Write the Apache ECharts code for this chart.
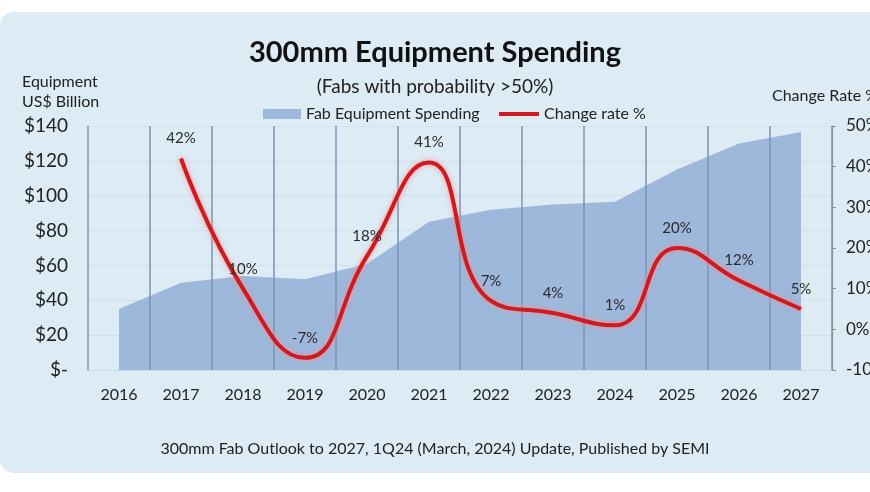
<!DOCTYPE html>
<html><head><meta charset="utf-8">
<script src="https://cdn.jsdelivr.net/npm/echarts@6/dist/echarts.min.js"></script>
<style>html,body{margin:0;padding:0;background:#fff;overflow:hidden;width:870px;height:492px}#c{width:870px;height:492px}</style>
</head><body><div id="c"></div>
<script>
const years = ['2016','2017','2018','2019','2020','2021','2022','2023','2024','2025','2026','2027'];
const spending = [35, 50, 54, 52, 61, 85, 92, 95, 96.5, 115, 130, 136.5];
const changeRate = [null, 42, 10, -7, 18, 41, 7, 4, 1, 20, 12, 5];
const leftTicks = [0, 20, 40, 60, 80, 100, 120, 140];
const rightTicks = [-10, 0, 10, 20, 30, 40, 50];

const FONT = 'Lato, "Open Sans", sans-serif';
const chart = echarts.init(document.getElementById('c'));
chart.setOption({
  backgroundColor: '#ffffff',
  animation: false,
  textStyle: { fontFamily: FONT },
  graphic: [
    { type: 'rect', z: -10, shape: { x: 0, y: 12, width: 890, height: 461, r: 14 }, style: { fill: '#dcebf4' } },
    { type: 'text', left: 'center', top: 38, style: { text: '300mm Equipment Spending', font: 'bold 29px ' + FONT, fill: '#111' } },
    { type: 'text', left: 'center', top: 77, style: { text: '(Fabs with probability >50%)', font: '19px ' + FONT, fill: '#222' } },
    { type: 'text', left: 22, top: 72, style: { text: 'Equipment\nUS$ Billion', font: '16px ' + FONT, fill: '#222', lineHeight: 20 } },
    { type: 'text', left: 772, top: 88, style: { text: 'Change Rate %', font: '16px ' + FONT, fill: '#222' } },
    { type: 'text', left: 'center', top: 441, style: { text: '300mm Fab Outlook to 2027, 1Q24 (March, 2024) Update, Published by SEMI', font: '16px ' + FONT, fill: '#222' } }
  ],
  legend: [
    {
      left: 258, top: 101, itemWidth: 38, itemHeight: 10,
      textStyle: { fontSize: 16, color: '#222', fontFamily: FONT },
      data: [{ name: 'Fab Equipment Spending', icon: 'rect' }]
    },
    {
      left: 494, top: 101, itemWidth: 40, itemHeight: 4,
      textStyle: { fontSize: 16, color: '#222', fontFamily: FONT },
      data: [{ name: 'Change rate %', icon: 'rect', itemStyle: { color: '#cf1b1f', opacity: 1 } }]
    }
  ],
  grid: { left: 88, right: 38, top: 126, bottom: 122, outerBoundsMode: 'none', containLabel: false },
  xAxis: {
    type: 'category', data: years, boundaryGap: true, z: 5,
    axisLine: { show: true, lineStyle: { color: '#c9dbe8' } },
    axisTick: { show: false },
    axisLabel: { fontSize: 16, color: '#222', margin: 17, fontFamily: FONT },
    splitLine: { show: true, interval: 0, lineStyle: { color: '#7b93b4', width: 1.5 } }
  },
  yAxis: [
    {
      type: 'value', min: 0, max: 140, interval: 20,
      axisLine: { show: false }, axisTick: { show: false },
      axisLabel: { fontSize: 19, color: '#222', margin: 20, fontFamily: FONT,
        formatter: v => leftTicks.includes(v) ? (v === 0 ? '$-' : '$' + v) : '' },
      splitLine: { show: true, lineStyle: { color: '#cfe0eb', width: 1 } }
    },
    {
      type: 'value', min: -10, max: 50, interval: 10, position: 'right', z: 5,
      axisLine: { show: true, lineStyle: { color: '#8a8f96', width: 1.2 } },
      axisTick: { show: true, length: 4, lineStyle: { color: '#8a8f96' } },
      axisLabel: { fontSize: 17, color: '#222', margin: 14, fontFamily: FONT,
        formatter: v => rightTicks.includes(v) ? v + '%' : '' },
      splitLine: { show: false }
    }
  ],
  series: [
    {
      name: 'Fab Equipment Spending', type: 'line', yAxisIndex: 0, data: spending,
      symbol: 'none', lineStyle: { width: 0 }, itemStyle: { color: '#9db8da' },
      areaStyle: { color: '#9db8da', opacity: 1 }, z: 1
    },
    {
      name: 'Change rate %', type: 'line', yAxisIndex: 1, data: changeRate,
      smooth: 0.5, symbol: 'circle', symbolSize: 1, showSymbol: true, connectNulls: false,
      itemStyle: { color: '#cf1b1f', opacity: 0 },
      lineStyle: { color: '#cf1b1f', width: 4, opacity: 1, shadowColor: 'rgba(255,140,140,0.9)', shadowBlur: 5 },
      label: { show: true, position: 'top', distance: 12, fontSize: 15, color: '#2a2a2a', fontFamily: FONT,
        opacity: 1, formatter: p => p.value + '%' },
      z: 10
    }
  ]
});
</script></body></html>
